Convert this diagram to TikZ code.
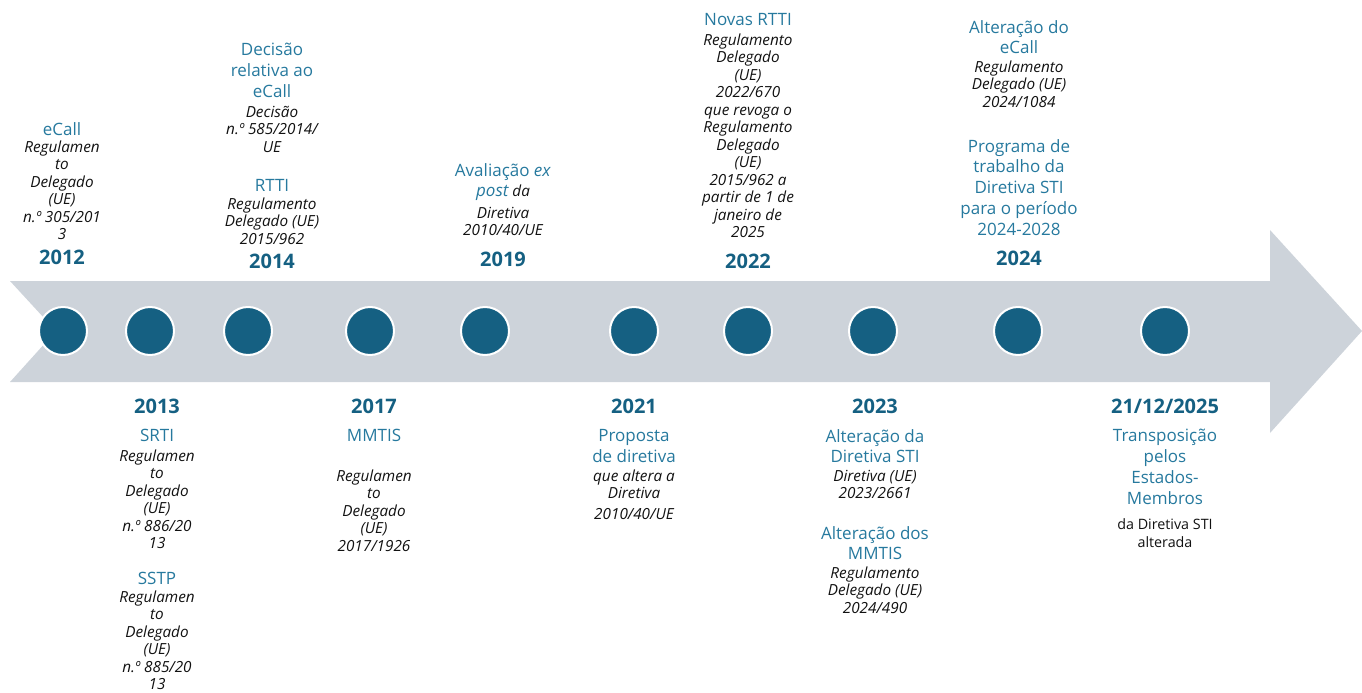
\documentclass[tikz,border=0pt]{standalone}
\usepackage{fontspec}
\setmainfont{Open Sans}
\definecolor{yearblue}{HTML}{156082}
\definecolor{titleblue}{RGB}{38,121,158}
\definecolor{arrowgray}{HTML}{CDD3DA}
\definecolor{txt}{HTML}{111111}
\tikzset{
  ttl/.style={font=\fontsize{17}{20.8}\selectfont, text=titleblue, align=center, inner sep=0pt, anchor=north},
  itx/.style={font=\fontsize{15.3}{17.5}\selectfont\itshape, text=txt, align=center, inner sep=0pt, anchor=north},
  plx/.style={font=\fontsize{14.3}{18}\selectfont, text=txt, align=center, inner sep=0pt, anchor=north},
  yr/.style={font=\fontsize{20}{24}\selectfont\bfseries, text=yearblue, inner sep=0pt, anchor=center},
  dot/.style={circle, fill=yearblue, draw=white, line width=2pt, minimum size=48pt, inner sep=0pt}
}
\begin{document}
\begin{tikzpicture}[x=1pt,y=-1pt]
\useasboundingbox (0,0) rectangle (1362,693);
% arrow
\fill[arrowgray] (10,281) -- (1270,281) -- (1270,230) -- (1362,331) -- (1270,433) -- (1270,382) -- (10,382) -- (56,331) -- cycle;
% dots
\node[dot] (c1) at (63,331) {};
\node[dot] (c2) at (150,331) {};
\node[dot] (c3) at (248,331) {};
\node[dot] (c4) at (370,331) {};
\node[dot] (c5) at (485,331) {};
\node[dot] (c6) at (634,331) {};
\node[dot] (c7) at (748,331) {};
\node[dot] (c8) at (873,331) {};
\node[dot] (c9) at (1018,331) {};
\node[dot] (c10) at (1165,331) {};
% 2012
\node[ttl] (t12a) at (62,122) {eCall};
\node[itx] (t12b) at (62,140.6) {Regulamen\\to\\Delegado\\(UE)\\n.º 305/201\\3};
\node[yr] (y12) at (62,257) {2012};
% 2014
\node[ttl] (t14a) at (272,43) {Decisão\\relativa ao\\eCall};
\node[itx] (t14b) at (272,105.6) {Decisão\\n.º 585/2014/\\UE};
\node[ttl] (t14c) at (272,179) {RTTI};
\node[itx] (t14d) at (272,197.6) {Regulamento\\Delegado (UE)\\2015/962};
\node[yr] (y14) at (272,261) {2014};
% 2019
\node[ttl] (t19a) at (503,163) {Avaliação \textit{ex}};
\node[itx] (t19b) at (503,185) {\textcolor{titleblue}{\fontsize{17}{20}\selectfont post} da};
\node[itx] (t19c) at (503,206.6) {Diretiva\\2010/40/UE};
\node[yr] (y19) at (503,259) {2019};
% 2022
\node[ttl] (t22a) at (748,13) {Novas RTTI};
\node[itx] (t22b) at (748,33.6) {Regulamento\\Delegado\\(UE)\\2022/670\\que revoga o\\Regulamento\\Delegado\\(UE)\\2015/962 a\\partir de 1 de\\janeiro de\\2025};
\node[yr] (y22) at (748,261) {2022};
% 2024
\node[ttl] (t24a) at (1019,20) {Alteração do\\eCall};
\node[itx] (t24b) at (1019,60.6) {Regulamento\\Delegado (UE)\\2024/1084};
\node[ttl] (t24c) at (1019,139) {Programa de\\trabalho da\\Diretiva STI\\para o período\\2024-2028};
\node[yr] (y24) at (1019,258) {2024};
% 2013
\node[yr] (y13) at (157,406) {2013};
\node[ttl] (t13a) at (157,429) {SRTI};
\node[itx] (t13b) at (157,449.6) {Regulamen\\to\\Delegado\\(UE)\\n.º 886/20\\13};
\node[ttl] (t13c) at (157,572) {SSTP};
\node[itx] (t13d) at (157,590.6) {Regulamen\\to\\Delegado\\(UE)\\n.º 885/20\\13};
% 2017
\node[yr] (y17) at (374,406) {2017};
\node[ttl] (t17a) at (374,429) {MMTIS};
\node[itx] (t17b) at (374,469.6) {Regulamen\\to\\Delegado\\(UE)\\2017/1926};
% 2021
\node[yr] (y21) at (634,406) {2021};
\node[ttl] (t21a) at (634,429) {Proposta\\de diretiva};
\node[itx] (t21b) at (634,469.6) {que altera a\\Diretiva};
\node[itx] (t21c) at (634,508.6) {2010/40/UE};
% 2023
\node[yr] (y23) at (875,406) {2023};
\node[ttl] (t23a) at (875,429) {Alteração da\\Diretiva STI};
\node[itx] (t23b) at (875,469.6) {Diretiva (UE)\\2023/2661};
\node[ttl] (t23c) at (875,526) {Alteração dos\\MMTIS};
\node[itx] (t23d) at (875,566.6) {Regulamento\\Delegado (UE)\\2024/490};
% 2025
\node[yr] (y25) at (1165,406) {21/12/2025};
\node[ttl] (t25a) at (1165,429) {Transposição\\pelos\\Estados-\\Membros};
\node[plx] (t25b) at (1165,518.5) {da Diretiva STI\\alterada};
\end{tikzpicture}
\end{document}
